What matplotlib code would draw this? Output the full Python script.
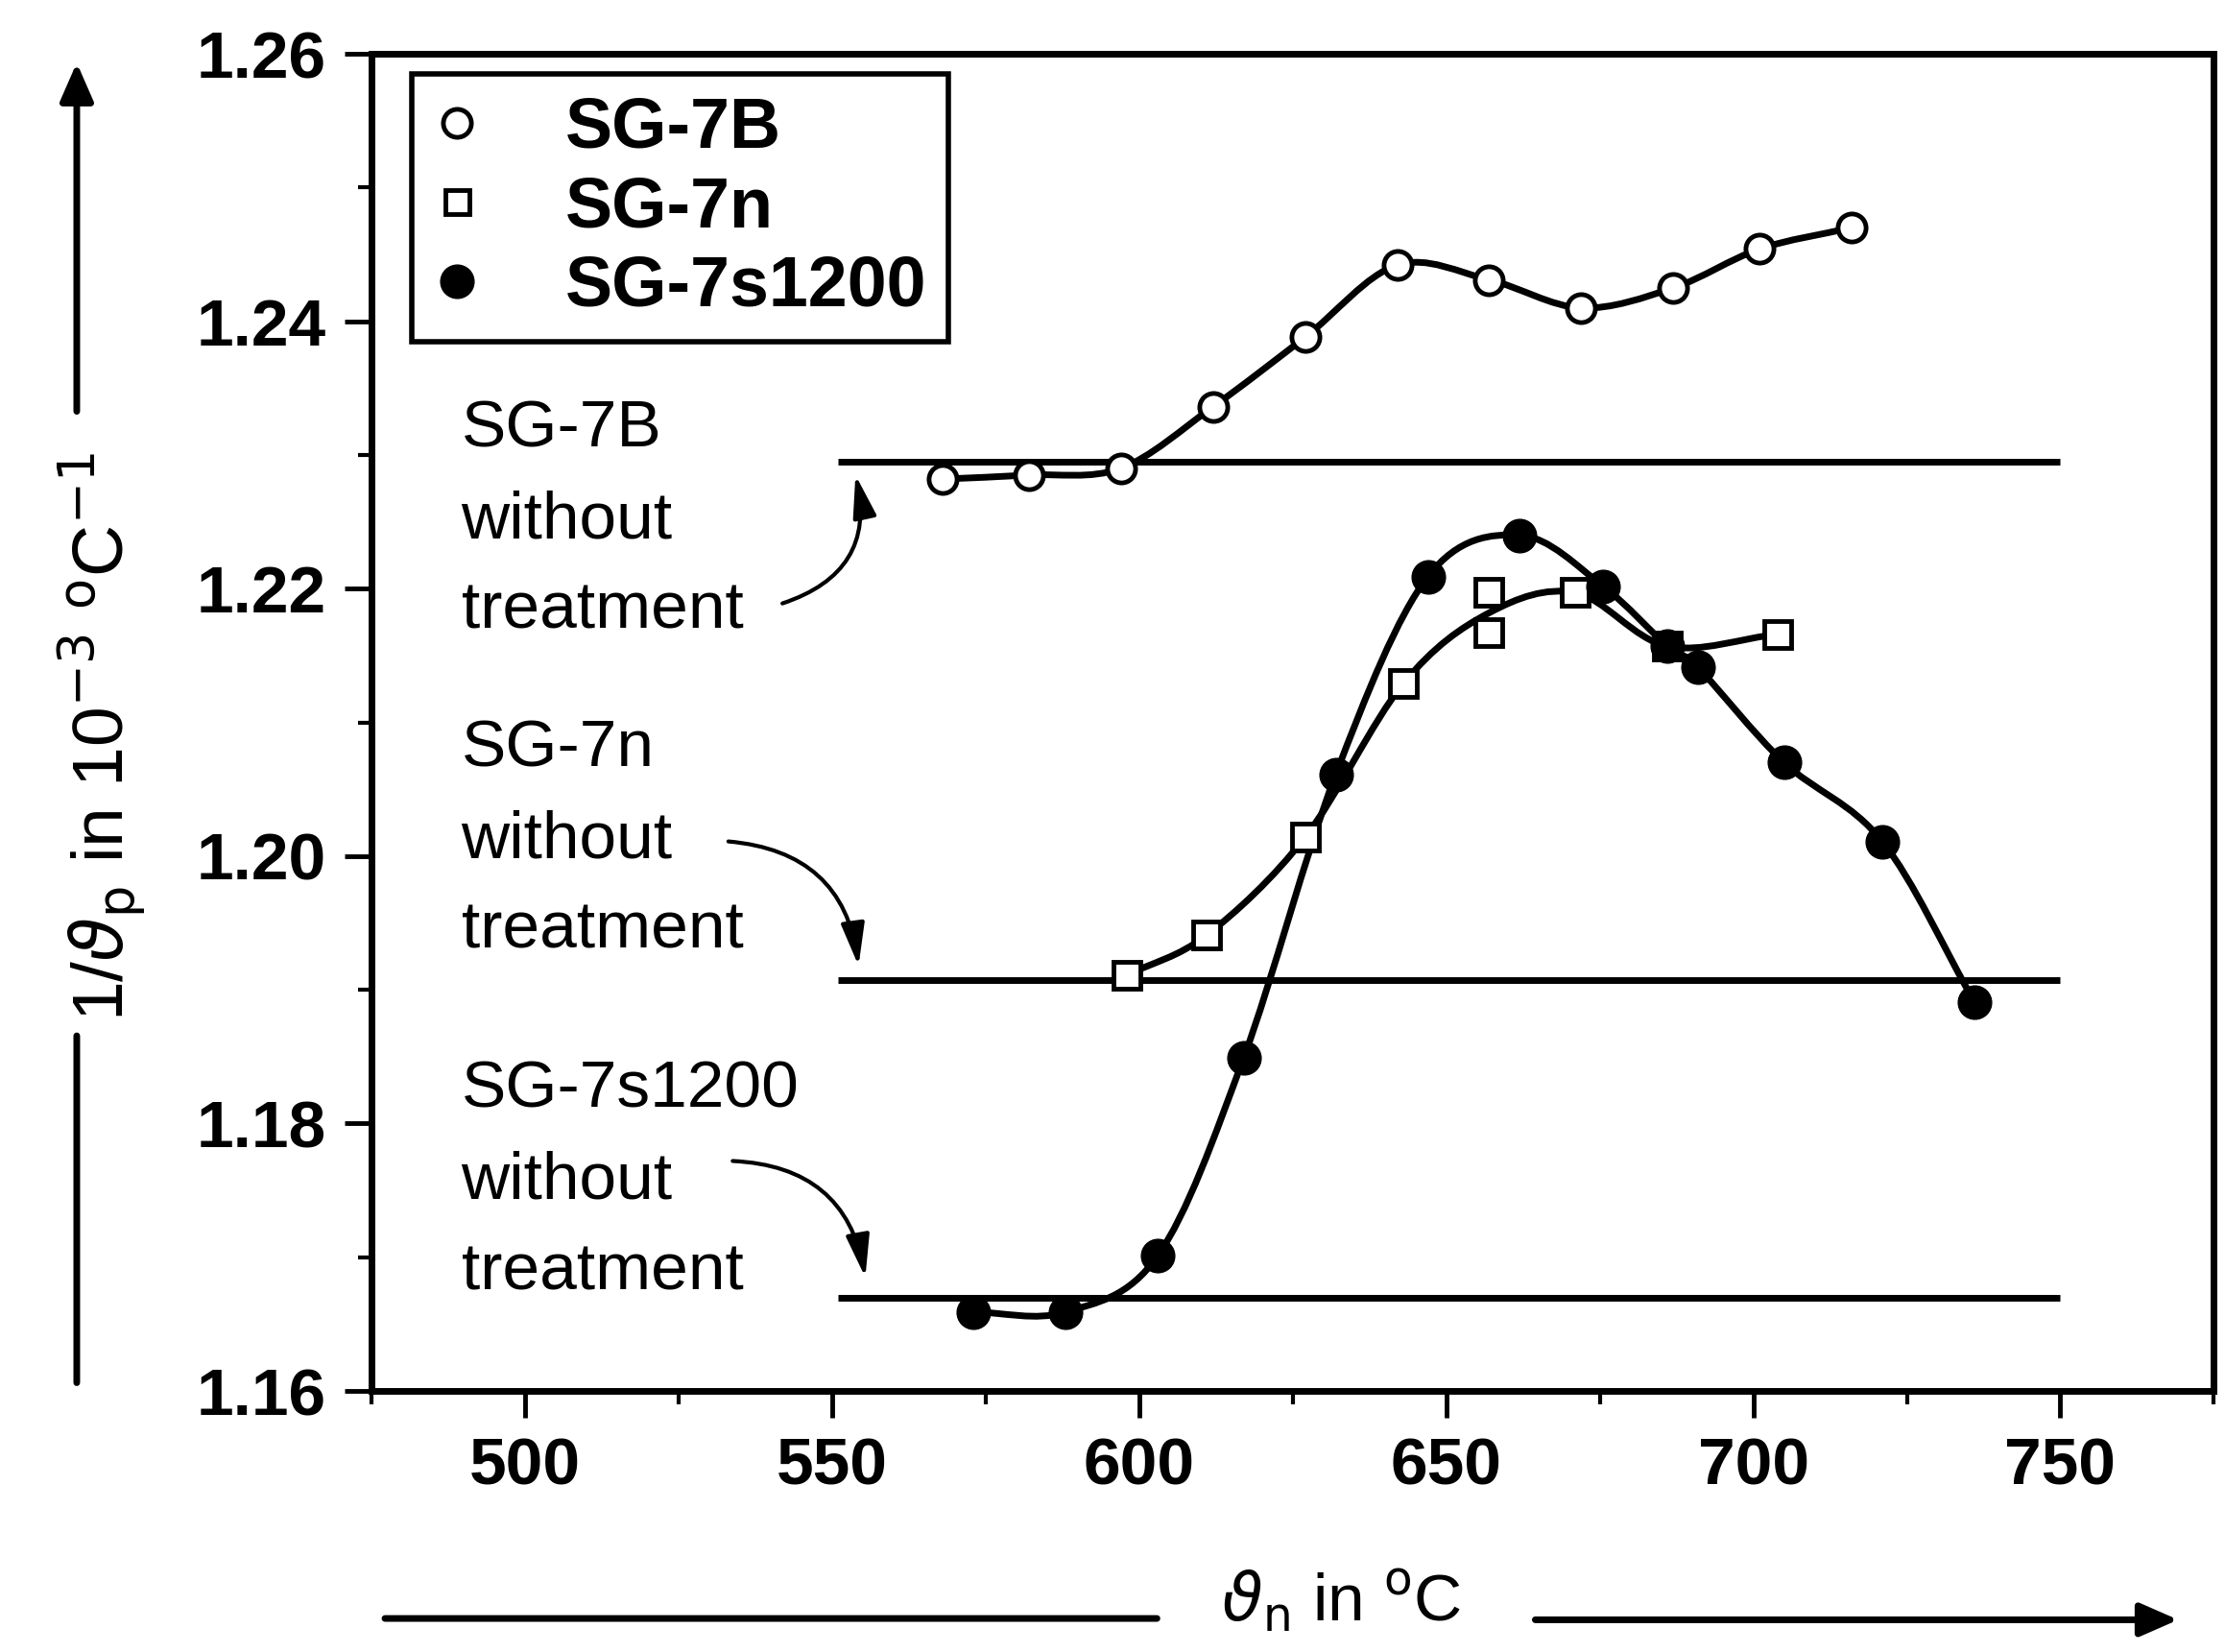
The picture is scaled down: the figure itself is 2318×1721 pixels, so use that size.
import numpy as np
import matplotlib
matplotlib.use("Agg")
import matplotlib.pyplot as plt
from matplotlib.path import Path
from matplotlib.patches import PathPatch
from matplotlib.lines import Line2D
from matplotlib.ticker import MultipleLocator, FormatStrFormatter

plt.rcParams['font.family'] = ['Liberation Sans', 'DejaVu Sans']
plt.rcParams['mathtext.fontset'] = 'dejavusans'

# data
sg7b_x = [568, 582, 597, 612, 627, 642, 657, 672, 687, 701, 716]
sg7b_y = [1.2282, 1.2285, 1.2290, 1.2336, 1.2388, 1.2442, 1.2431, 1.2410, 1.2425, 1.2454, 1.2470]

sg7n_x = [598, 611, 627, 643, 657, 657, 671, 686, 704]
sg7n_y = [1.1911, 1.1941, 1.2014, 1.2129, 1.2197, 1.2167, 1.2197, 1.2157, 1.2166]

sg7s_x = [573, 588, 603, 617, 632, 647, 662, 675.5, 686, 691, 705, 721, 736]
sg7s_y = [1.1659, 1.1659, 1.1701, 1.1849, 1.2061, 1.2209, 1.2240, 1.2202, 1.2157, 1.2141, 1.2070, 1.2011, 1.1891]

# "without treatment" reference levels
ref_names = ['SG-7B', 'SG-7n', 'SG-7s1200']
ref_levels = [1.2295, 1.1907, 1.1670]
ref_x0, ref_x1 = 551, 750

xticks = [500, 550, 600, 650, 700, 750]


def smooth_path(x, y):
    # merge repeated x values, then Catmull-Rom -> cubic bezier
    ux = sorted(set(x))
    uy = [np.mean([b for a, b in zip(x, y) if a == v]) for v in ux]
    px = np.array([2 * ux[0] - ux[1]] + ux + [2 * ux[-1] - ux[-2]], float)
    py = np.array([2 * uy[0] - uy[1]] + uy + [2 * uy[-1] - uy[-2]], float)
    verts = [(px[1], py[1])]
    codes = [Path.MOVETO]
    for i in range(1, len(px) - 2):
        c1 = (px[i] + (px[i + 1] - px[i - 1]) / 6, py[i] + (py[i + 1] - py[i - 1]) / 6)
        c2 = (px[i + 1] - (px[i + 2] - px[i]) / 6, py[i + 1] - (py[i + 2] - py[i]) / 6)
        verts += [c1, c2, (px[i + 1], py[i + 1])]
        codes += [Path.CURVE4] * 3
    return Path(verts, codes)


fig = plt.figure(figsize=(23.18, 17.21), dpi=100)
ax = fig.add_axes([0.167, 0.158, 0.828, 0.8094])

lw = 5
for lev in ref_levels:
    ax.plot([ref_x0, ref_x1], [lev, lev], color='black', lw=lw, solid_capstyle='butt')

for xs, ys in [(sg7b_x, sg7b_y), (sg7n_x, sg7n_y), (sg7s_x, sg7s_y)]:
    ax.add_patch(PathPatch(smooth_path(xs, ys), facecolor='none', edgecolor='black', lw=lw))

ax.plot(sg7b_x, sg7b_y, 'o', ls='none', ms=21, mfc='white', mec='black', mew=3.5)
ax.plot(sg7n_x, sg7n_y, 's', ls='none', ms=20, mfc='white', mec='black', mew=3.5)
ax.plot(sg7s_x, sg7s_y, 'o', ls='none', ms=25, mfc='black', mec='black')

# annotation blocks
txt_x = 489.6
txt_top = [1.2319, 1.2080, 1.1825]
step = 0.0068
for name, top in zip(ref_names, txt_top):
    for i, line in enumerate([name, 'without', 'treatment']):
        ax.text(txt_x, top - i * step, line, fontsize=50, ha='left', va='center')

arrows = [
    ((541.9, 1.2189), (553.8, 1.2285), 0.45),
    ((533.1, 1.2011), (554.3, 1.1918), -0.4),
    ((533.8, 1.1772), (555.4, 1.1685), -0.4),
]
for tail, head, rad in arrows:
    ax.annotate('', xy=head, xytext=tail,
                arrowprops=dict(arrowstyle='-|>,head_length=0.9,head_width=0.25',
                                connectionstyle='arc3,rad=%s' % rad,
                                color='black', lw=3, mutation_scale=30,
                                shrinkA=0, shrinkB=0))

ax.set_xlim(475, 775)
ax.set_ylim(1.16, 1.26)
ax.set_xticks(xticks)
ax.xaxis.set_minor_locator(MultipleLocator(25))
ax.yaxis.set_major_locator(MultipleLocator(0.02))
ax.yaxis.set_minor_locator(MultipleLocator(0.01))
ax.yaxis.set_major_formatter(FormatStrFormatter('%.2f'))
ax.tick_params(which='major', direction='out', length=20, width=3.5, labelsize=50, pad=14)
ax.tick_params(which='minor', direction='out', length=10, width=3)
for lab in ax.get_xticklabels() + ax.get_yticklabels():
    lab.set_fontweight('bold')
for sp in ax.spines.values():
    sp.set_linewidth(5)

handles = [
    Line2D([], [], marker='o', ls='none', ms=21, mfc='white', mec='black', mew=3.5),
    Line2D([], [], marker='s', ls='none', ms=18, mfc='white', mec='black', mew=3.5),
    Line2D([], [], marker='o', ls='none', ms=25, mfc='black', mec='black'),
]
leg = ax.legend(handles, ref_names, loc='upper left', bbox_to_anchor=(0.185, 0.955),
                bbox_transform=fig.transFigure, frameon=True, fancybox=False,
                edgecolor='black', framealpha=1, prop={'size': 53, 'weight': 'bold'},
                handlelength=0.68, handletextpad=1.2, labelspacing=0.185,
                borderpad=0.3, borderaxespad=0)
leg.get_frame().set_linewidth(4)

# axis labels with their arrows
fig.text(0.0457, 0.554, r'1/$\vartheta_\mathrm{p}$ in 10$^{-3}$ $^\mathrm{o}$C$^{-1}$',
         rotation=90, fontsize=54, ha='center', va='center')
fig.text(0.6027, 0.031, r'$\vartheta_\mathrm{n}$ in $^\mathrm{o}$C',
         fontsize=50, ha='center', va='center')

ax.annotate('', xy=(0.0345, 0.962), xytext=(0.0345, 0.751), xycoords='figure fraction',
            arrowprops=dict(arrowstyle='-|>,head_length=0.8,head_width=0.35', color='black',
                            lw=5, mutation_scale=30, shrinkA=0, shrinkB=0))
ax.annotate('', xy=(0.0345, 0.163), xytext=(0.0345, 0.373), xycoords='figure fraction',
            arrowprops=dict(arrowstyle='-', color='black', lw=5, shrinkA=0, shrinkB=0))
ax.annotate('', xy=(0.173, 0.0203), xytext=(0.520, 0.0203), xycoords='figure fraction',
            arrowprops=dict(arrowstyle='-', color='black', lw=5, shrinkA=0, shrinkB=0))
ax.annotate('', xy=(0.979, 0.0195), xytext=(0.690, 0.0195), xycoords='figure fraction',
            arrowprops=dict(arrowstyle='-|>,head_length=0.8,head_width=0.35', color='black',
                            lw=5, mutation_scale=30, shrinkA=0, shrinkB=0))

fig.savefig('out.png', dpi=100)
